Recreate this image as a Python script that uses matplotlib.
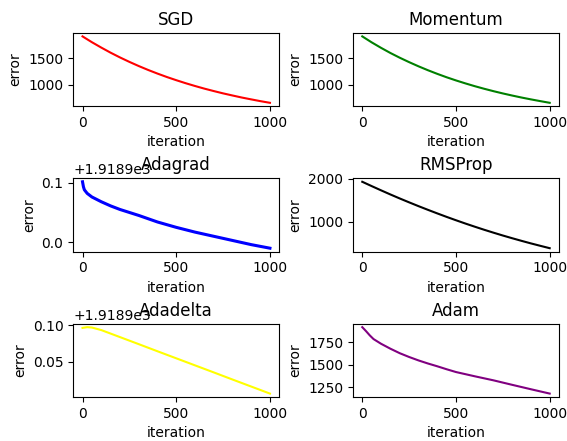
import matplotlib
matplotlib.use("Agg")
import matplotlib.pyplot as plt

sgd_it = [0, 50, 100, 150, 200, 250, 300, 350, 400, 450, 500, 550, 600, 650, 700, 750, 800, 850, 900, 950, 1000]
sgd_err = [1919, 1809, 1707, 1610, 1520, 1436, 1357, 1283, 1214, 1149, 1089, 1032, 979, 929, 883, 839, 799, 760, 725, 691, 660]

mom_it = sgd_it
mom_err = [1919, 1806, 1702, 1604, 1514, 1430, 1351, 1277, 1208, 1143, 1083, 1027, 974, 925, 879, 836, 796, 758, 723, 690, 658]

adagrad_it = [0, 5, 10, 25, 50, 100, 150, 200, 300, 400, 500, 600, 700, 800, 900, 1000]
adagrad_err = [1919.0015, 1918.9930, 1918.9880, 1918.9820, 1918.9760, 1918.9680, 1918.9610, 1918.9550,
               1918.9450, 1918.9340, 1918.9250, 1918.9170, 1918.9100, 1918.9030, 1918.8960, 1918.8900]

rms_it = sgd_it
rms_err = [1925, 1825, 1727, 1631, 1538, 1448, 1360, 1275, 1192, 1111, 1033, 957, 884, 813, 745, 679, 616, 555, 496, 440, 385]

adadelta_it = [0, 25, 50, 100, 200, 300, 400, 500, 600, 700, 800, 900, 1000]
adadelta_err = [1918.9965, 1918.9975, 1918.9970, 1918.9935, 1918.9838, 1918.9741, 1918.9643, 1918.9546,
                1918.9449, 1918.9352, 1918.9254, 1918.9157, 1918.9060]

adam_it = [0, 20, 40, 60, 100, 150, 200, 250, 300, 350, 400, 450, 500, 600, 700, 800, 900, 1000]
adam_err = [1919, 1875, 1828, 1787, 1735, 1680, 1630, 1588, 1550, 1516, 1485, 1452, 1421, 1374, 1329, 1279, 1230, 1182]

titles = ["SGD", "Momentum", "Adagrad", "RMSProp", "Adadelta", "Adam"]
series = [(sgd_it, sgd_err), (mom_it, mom_err), (adagrad_it, adagrad_err),
          (rms_it, rms_err), (adadelta_it, adadelta_err), (adam_it, adam_err)]
colors = ["red", "green", "blue", "black", "yellow", "purple"]
widths = [1.5, 1.5, 2.2, 1.5, 1.5, 1.5]
rms_yticks = [1000, 2000]

fig, axes = plt.subplots(3, 2, figsize=(5.67, 4.41), dpi=100)
for ax, title, (x, y), c, lw in zip(axes.flat, titles, series, colors, widths):
    ax.plot(x, y, color=c, linewidth=lw)
    ax.set_title(title, y=1.0)
    ax.set_xlabel("iteration")
    ax.set_ylabel("error")
    ax.set_xticks([0, 500, 1000])

axes[1, 1].set_yticks(rms_yticks)

fig.subplots_adjust(left=0.129, right=0.986, top=0.925, bottom=0.10, wspace=0.357, hspace=0.99)
fig.savefig("out.png", dpi=100)
